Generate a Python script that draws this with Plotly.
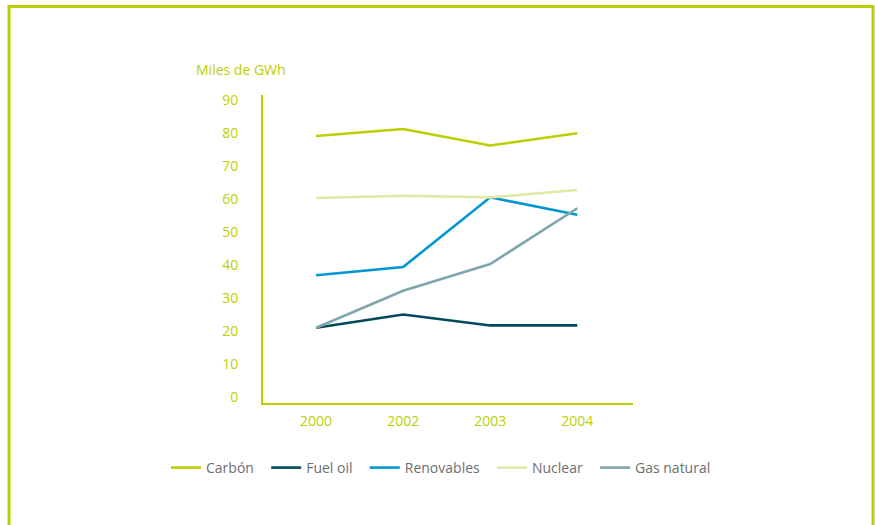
import plotly.graph_objects as go

years = ["2000", "2002", "2003", "2004"]
carbon = [79.1, 81.2, 76.2, 79.9]
fuel_oil = [21.0, 25.0, 21.7, 21.7]
renovables = [36.9, 39.4, 60.5, 55.2]
nuclear = [60.3, 61.0, 60.5, 62.7]
gas_natural = [21.0, 32.2, 40.3, 57.2]
y_ticks = [0, 10, 20, 30, 40, 50, 60, 70, 80, 90]

GREEN = "#bccf00"
PAD = "\u00a0\u00a0"
series = [
    ("Carbón", carbon, "#bccf00"),
    ("Fuel oil", fuel_oil, "#00485a"),
    ("Renovables", renovables, "#0096d2"),
    ("Nuclear", nuclear, "#e2e8a6"),
    ("Gas natural", gas_natural, "#7fa6ad"),
]

fig = go.Figure()
for name, vals, col in series:
    fig.add_trace(go.Scatter(x=years, y=vals, name=name + PAD, mode="lines",
                             line=dict(color=col, width=2.6)))

fig.update_layout(
    width=875, height=525,
    margin=dict(l=263, r=242, t=95, b=122),
    paper_bgcolor="white", plot_bgcolor="white",
    font=dict(family="Open Sans", size=14, color=GREEN),
    showlegend=True,
    legend=dict(orientation="h", x=(166 - 263) / 370, xanchor="left",
                y=-0.211, yanchor="middle",
                font=dict(color="#6d6e70", size=14), itemwidth=30,
                bgcolor="rgba(0,0,0,0)"),
    xaxis=dict(type="category", range=[-0.61, 3.64], showgrid=False, zeroline=False,
               showline=True, linecolor=GREEN, linewidth=2,
               ticks="outside", ticklen=4, tickcolor="rgba(0,0,0,0)",
               tickfont=dict(color=GREEN, size=14)),
    yaxis=dict(range=[-1.8, 91.5], tickvals=y_ticks, showgrid=False, zeroline=False,
               showline=True, linecolor=GREEN, linewidth=2,
               ticks="outside", ticklen=20, tickcolor="rgba(0,0,0,0)",
               tickfont=dict(color=GREEN, size=14)),
    shapes=[dict(type="rect", xref="paper", yref="paper",
                 x0=(9 - 263) / 370, x1=(873 - 263) / 370,
                 y0=(403 - 540) / 308, y1=(403 - 6.5) / 308,
                 line=dict(color=GREEN, width=3), fillcolor="rgba(0,0,0,0)")],
    annotations=[dict(text="Miles de GWh", xref="paper", yref="paper",
                      x=(194 - 263) / 370, y=(403 - 70) / 308,
                      xanchor="left", yanchor="middle", showarrow=False,
                      font=dict(color=GREEN, size=14))],
)

fig.write_html("out.html", config={"displayModeBar": False},
               post_script="document.body.style.margin='0';")
